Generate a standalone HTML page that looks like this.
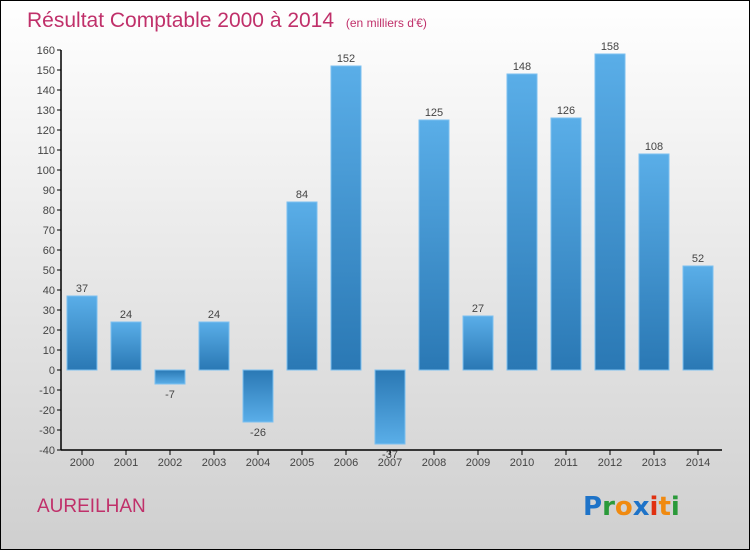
<!DOCTYPE html>
<html><head><meta charset="utf-8"><style>
html,body{margin:0;padding:0}
body{width:750px;height:550px;overflow:hidden;font-family:"Liberation Sans",sans-serif}
</style></head><body>
<svg id="chart" width="750" height="550" xmlns="http://www.w3.org/2000/svg">
<defs>
<linearGradient id="bg" x1="0" y1="0" x2="0" y2="1"><stop offset="0" stop-color="#ffffff"/><stop offset="1" stop-color="#cfcfcf"/></linearGradient>
<linearGradient id="barP" x1="0" y1="0" x2="0" y2="1"><stop offset="0" stop-color="#5aaee8"/><stop offset="1" stop-color="#2a78b4"/></linearGradient>
<linearGradient id="barN" x1="0" y1="0" x2="0" y2="1"><stop offset="0" stop-color="#2a78b4"/><stop offset="1" stop-color="#5aaee8"/></linearGradient>
</defs>
<rect x="0.5" y="0.5" width="749" height="549" fill="url(#bg)" stroke="#000"/>
<text x="27" y="27" font-size="21" fill="#c0306a">Résultat Comptable 2000 à 2014 <tspan font-size="12" dx="6">(en milliers d'€)</tspan></text>
<text x="37" y="512" font-size="19" fill="#c0306a">AUREILHAN</text>
<g font-size="26" font-weight="bold" font-family="'DejaVu Sans',sans-serif">
<text x="583" y="515"><tspan fill="#1e73c8">P</tspan><tspan fill="#2a9a3a">r</tspan><tspan fill="#f08a10">o</tspan><tspan fill="#1e73c8">x</tspan><tspan fill="#e03010">i</tspan><tspan fill="#f08a10">t</tspan><tspan fill="#2a9a3a">i</tspan></text>
</g>
<g id="plot"></g>
</svg>
<script>
const years=["2000","2001","2002","2003","2004","2005","2006","2007","2008","2009","2010","2011","2012","2013","2014"];
const values=[37,24,-7,24,-26,84,152,-37,125,27,148,126,158,108,52];
const yTicks=[-40,-30,-20,-10,0,10,20,30,40,50,60,70,80,90,100,110,120,130,140,150,160];
const NS="http://www.w3.org/2000/svg";
const g=document.getElementById('plot');
const y=v=>370-v*2;
const x=i=>82+i*44;
function mk(t,a){const e=document.createElementNS(NS,t);for(const k in a)e.setAttribute(k,a[k]);g.appendChild(e);return e;}
const ax=mk('line',{x1:61,y1:50,x2:61,y2:450,stroke:'#000','stroke-width':1.5});


const bx=mk('line',{x1:61,y1:450,x2:722,y2:450,stroke:'#000','stroke-width':1.5});


yTicks.forEach(v=>{
  const l=mk('line',{x1:57,y1:y(v),x2:61,y2:y(v),stroke:'#000'});
  
  
  const t=mk('text',{x:55,y:y(v)+4,'text-anchor':'end','font-size':11,fill:'#444'});
  t.textContent=v;
  
  
});
years.forEach((yr,i)=>{
  const v=values[i];
  const top=v>=0?y(v):y(0);
  const h=Math.abs(y(v)-y(0));
  const r=mk('rect',{x:x(i)-15,y:top,width:30,height:h,fill:v>=0?'url(#barP)':'url(#barN)',stroke:'#7cc0f0','stroke-width':1});
  
  
  const lt=mk('text',{x:x(i),y:v>=0?y(v)-4:y(v)+14,'text-anchor':'middle','font-size':11,fill:'#444'});
  lt.textContent=v;
  
  
  const tk=mk('line',{x1:x(i),y1:450,x2:x(i),y2:455,stroke:'#000'});
  
  
  const xt=mk('text',{x:x(i),y:466,'text-anchor':'middle','font-size':11,fill:'#444'});
  xt.textContent=yr;
  
  
});
</script>
</body></html>
